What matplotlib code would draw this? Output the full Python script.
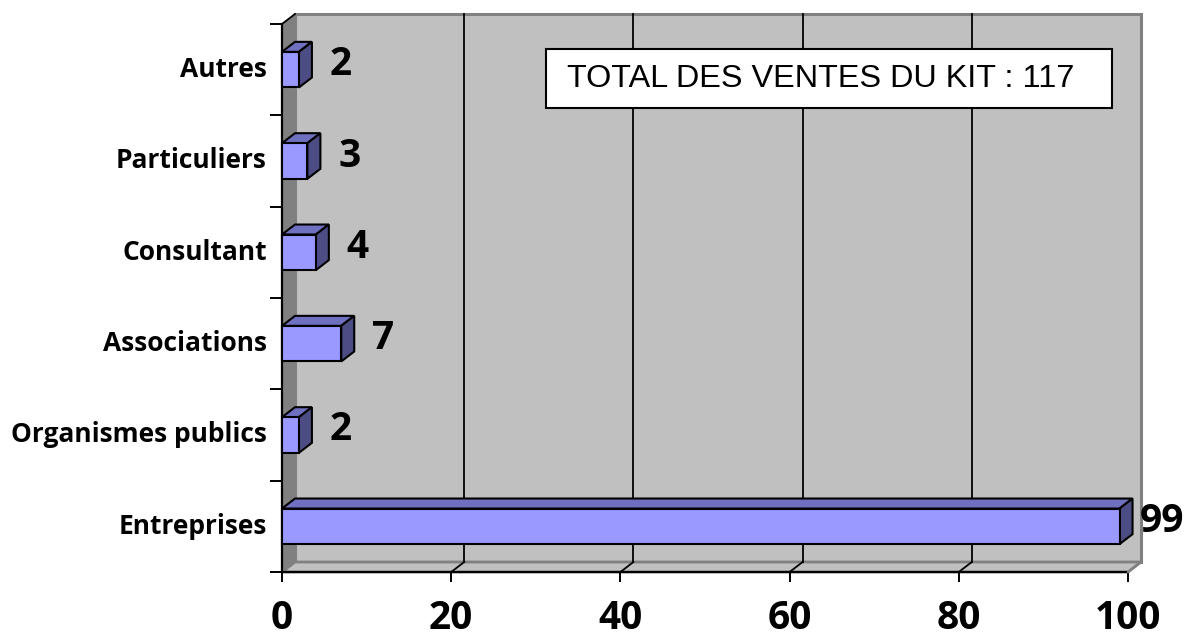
import matplotlib
matplotlib.use("Agg")
import matplotlib.pyplot as plt
from matplotlib.patches import Polygon, Rectangle

categories = ["Entreprises", "Organismes publics", "Associations", "Consultant", "Particuliers", "Autres"]
values = [99, 2, 7, 4, 3, 2]
xticks = [0, 20, 40, 60, 80, 100]
total_text = "TOTAL DES VENTES DU KIT : 117"

W, H = 1186, 644
fig = plt.figure(figsize=(W / 100, H / 100), dpi=100)
fig.patch.set_facecolor("white")

x0, x1, y0, y1 = 282, 1128, 572, 24
ax = fig.add_axes([x0 / W, 1 - y0 / H, (x1 - x0) / W, (y0 - y1) / H])
ax.set_xlim(0, 100)
ax.set_ylim(0, len(categories))
ax.set_facecolor("none")
for s in ax.spines.values():
    s.set_visible(False)

pxu = (x1 - x0) / 100
dx = 13 / pxu
dy = 10 / ((y0 - y1) / len(categories))
ymax = len(categories)

wall = "#C0C0C0"
side = "#808080"
ax.add_patch(Polygon([(dx, dy), (100 + dx, dy), (100 + dx, ymax + dy), (dx, ymax + dy)],
                     closed=True, facecolor=wall, edgecolor=side, lw=2.2, clip_on=False, zorder=1))
ax.add_patch(Polygon([(0, 0), (100, 0), (100 + dx, dy), (dx, dy)],
                     closed=True, facecolor=wall, edgecolor=side, lw=2.0, clip_on=False, zorder=1.2))
ax.add_patch(Polygon([(0, 0), (dx, dy), (dx, ymax + dy), (0, ymax)],
                     closed=True, facecolor=side, edgecolor="none", clip_on=False, zorder=1.3))

for t in xticks[1:-1]:
    ax.plot([t + dx, t + dx], [dy, ymax + dy], color="black", lw=1.3, clip_on=False, zorder=1.5)
    ax.plot([t, t + dx], [0, dy], color="black", lw=1.3, clip_on=False, zorder=1.5)
ax.plot([0, dx], [ymax, ymax + dy], color="black", lw=1.3, clip_on=False, zorder=1.6)

ax.plot([0, 0], [0, ymax], color="black", lw=1.6, clip_on=False, zorder=1.7)
ax.plot([0, 100], [0, 0], color="black", lw=1.6, clip_on=False, zorder=1.7)
ax.plot([100, 100 + dx], [0, dy], color=side, lw=1.6, clip_on=False, zorder=1.7)

ax.set_xticks(xticks)
ax.set_xticklabels([str(t) for t in xticks], fontsize=28, fontweight="bold", family="Open Sans")
ax.set_yticks(range(len(categories) + 1))
ax.set_yticklabels([])
ax.tick_params(axis="x", length=7.5, width=1.4, direction="out", pad=12, colors="black")
ax.tick_params(axis="y", length=9, width=1.4, direction="out")

for i, c in enumerate(categories):
    ax.text(-15 / pxu, i + 0.5, c, ha="right", va="center",
            fontsize=19, fontweight="bold", family="Open Sans", clip_on=False)

front_c = "#9999FF"
top_c = "#7070C0"
side_c = "#4D4D85"
h = 0.39
for i, v in enumerate(values):
    yc = i + 0.5
    yb, yt = yc - h / 2, yc + h / 2
    z = 5
    ax.add_patch(Polygon([(0, yt), (v, yt), (v + dx, yt + dy), (dx, yt + dy)], closed=True,
                         facecolor=top_c, edgecolor="black", lw=1.5, clip_on=False, zorder=z))
    ax.add_patch(Polygon([(v, yb), (v + dx, yb + dy), (v + dx, yt + dy), (v, yt)], closed=True,
                         facecolor=side_c, edgecolor="black", lw=1.5, clip_on=False, zorder=z))
    ax.add_patch(Polygon([(0, yb), (v, yb), (v, yt), (0, yt)], closed=True,
                         facecolor=front_c, edgecolor="black", lw=1.5, clip_on=False, zorder=z + 0.1))
    ax.text(v + dx + 29 / pxu, yc + dy / 2, str(v), ha="center", va="center",
            fontsize=28, fontweight="bold", family="Open Sans", clip_on=False, zorder=6)

fig.patches.append(Rectangle((546 / W, 1 - 108 / H), (1112 - 546) / W, (108 - 49) / H,
                             transform=fig.transFigure, facecolor="white", edgecolor="black",
                             lw=1.5, zorder=10))
fig.text(567 / W, 1 - 79 / H, total_text, ha="left", va="center", fontsize=23.3,
         family="Liberation Sans", zorder=11)

fig.savefig("out.png", dpi=100)
